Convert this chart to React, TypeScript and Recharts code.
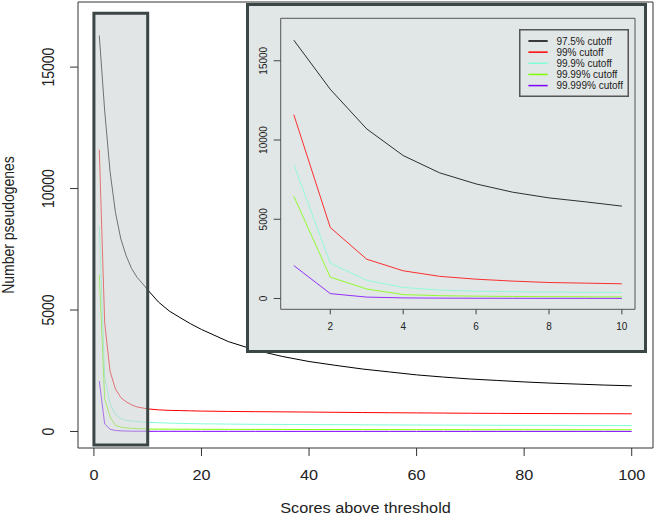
import React from 'react';
import { LineChart, Line, XAxis, YAxis, ReferenceArea } from 'recharts';

// ---- data ----
const scores = [1, 2, 3, 4, 5, 6, 7, 8, 9, 10, 12, 14, 16, 18, 20, 25, 30, 35, 40, 45, 50, 55, 60, 65, 70, 75, 80, 85, 90, 95, 100];
const cutoff975 = [16300, 13200, 10700, 9020, 7930, 7230, 6710, 6350, 6100, 5830, 5330, 4960, 4690, 4430, 4200, 3700, 3350, 3090, 2880, 2720, 2570, 2450, 2330, 2240, 2160, 2100, 2040, 1990, 1950, 1910, 1880];
const cutoff99 = [11600, 4480, 2480, 1750, 1400, 1220, 1100, 1010, 970, 930, 890, 870, 860, 850, 840, 825, 815, 808, 800, 790, 780, 772, 765, 758, 750, 745, 740, 737, 734, 731, 728];
const cutoff999 = [8450, 2230, 1150, 700, 530, 460, 430, 410, 390, 380, 360, 345, 335, 325, 315, 305, 295, 290, 285, 280, 275, 270, 267, 263, 260, 257, 254, 252, 250, 248, 245];
const cutoff9999 = [6450, 1350, 600, 250, 180, 150, 130, 120, 110, 100, 97, 95, 93, 91, 90, 87, 85, 83, 80, 79, 78, 77, 75, 74, 73, 72, 72, 71, 71, 70, 70];
const cutoff99999 = [2080, 310, 90, 40, 25, 18, 14, 11, 9, 8, 7, 7, 7, 6, 6, 6, 6, 5, 5, 5, 5, 5, 5, 5, 4, 4, 4, 4, 4, 4, 4];

const seriesNames = ['97.5% cutoff', '99% cutoff', '99.9% cutoff', '99.99% cutoff', '99.999% cutoff'];
const seriesKeys = ['c975', 'c99', 'c999', 'c9999', 'c99999'];
const seriesValues = [cutoff975, cutoff99, cutoff999, cutoff9999, cutoff99999];
const seriesColors = ['#000000', '#ff0000', '#7fffd4', '#7fff00', '#7f00ff'];

const mainXTicks = [0, 20, 40, 60, 80, 100];
const insetXTicks = [2, 4, 6, 8, 10];
const yTicks = [0, 5000, 10000, 15000];

const xTitle = 'Scores above threshold';
const yTitle = 'Number pseudogenes';

// zoom window shown in the inset
const zoomX = [0, 10];
const zoomY = [-560, 17220];

// ---- derived ----
const data = scores.map((s, i) => {
  const row: any = { score: s };
  seriesKeys.forEach((k, j) => { row[k] = seriesValues[j][i]; });
  return row;
});
const insetData = data.filter((d) => d.score <= 10);

const MAIN_X_DOMAIN: [number, number] = [-2.96, 103.96];
const INSET_X_DOMAIN: [number, number] = [0.64, 10.36];
const Y_DOMAIN: [number, number] = [-680, 17680];

const FONT = '"Liberation Sans", Arial, Helvetica, sans-serif';
const TEXT = '#222';
const STRETCH = 1.16; // main-plot text is horizontally widened in the reference

const makeYTick = (fontSize: number, sx: number) => (props: any) => {
  const { x, y, payload } = props;
  return (
    <text
      x={0}
      y={0}
      transform={`translate(${x} ${y}) scale(${sx} 1) rotate(-90)`}
      textAnchor="middle"
      fontSize={fontSize}
      fill={TEXT}
      fontFamily={FONT}
    >
      {payload.value}
    </text>
  );
};

const mainXTick = (props: any) => {
  const { x, y, payload } = props;
  return (
    <text
      x={0}
      y={0}
      dy="0.71em"
      transform={`translate(${x} ${y}) scale(${STRETCH} 1)`}
      textAnchor="middle"
      fontSize={14}
      fill={TEXT}
      fontFamily={FONT}
    >
      {payload.value}
    </text>
  );
};

const xLabel = (props: any) => {
  const vb = props.viewBox || { x: 78, y: 448, width: 575, height: 73 };
  const x = vb.x + vb.width / 2;
  const y = vb.y + 65;
  return (
    <text x={0} y={0} transform={`translate(${x} ${y}) scale(${STRETCH} 1)`} textAnchor="middle" fontSize={14} fill={TEXT} fontFamily={FONT}>
      {xTitle}
    </text>
  );
};

const yLabel = (props: any) => {
  const vb = props.viewBox || { x: 0, y: 2, width: 78, height: 446 };
  const x = vb.x + 14;
  const y = vb.y + vb.height / 2;
  return (
    <text x={0} y={0} transform={`translate(${x} ${y}) scale(${STRETCH} 1) rotate(-90)`} textAnchor="middle" fontSize={14} fill={TEXT} fontFamily={FONT}>
      {yTitle}
    </text>
  );
};

function LegendBox() {
  const w = 110;
  const h = 68;
  return (
    <svg width={w} height={h} style={{ display: 'block' }}>
      <rect x={0.75} y={0.75} width={w - 1.5} height={h - 1.5} fill="none" stroke="#555" strokeWidth={1.5} />
      {seriesNames.map((n, i) => {
        const cy = 12 + i * 11.15;
        return (
          <g key={n}>
            <line x1={9.4} x2={28.7} y1={cy} y2={cy} stroke={seriesColors[i]} strokeWidth={1.5} />
            <text x={37.4} y={cy} dominantBaseline="central" fontSize={10} fill={TEXT} fontFamily={FONT}>
              {n}
            </text>
          </g>
        );
      })}
    </svg>
  );
}

export default function App() {
  return (
    <div style={{ position: 'absolute', left: 0, top: 0, width: 661, height: 521, background: '#fff', overflow: 'hidden' }}>
      {/* main chart */}
      <div style={{ position: 'absolute', left: 0, top: 0 }}>
        <LineChart width={661} height={521} data={data} margin={{ top: 2, right: 8, left: 0, bottom: 0 }}>
          <XAxis
            dataKey="score"
            type="number"
            domain={MAIN_X_DOMAIN}
            allowDataOverflow
            ticks={mainXTicks}
            interval={0}
            height={73}
            tickSize={8}
            tickMargin={14}
            axisLine={false}
            tickLine={{ stroke: '#333' }}
            tick={mainXTick}
            label={xLabel}
          />
          <YAxis
            type="number"
            domain={Y_DOMAIN}
            allowDataOverflow
            ticks={yTicks}
            interval={0}
            width={78}
            tickSize={8}
            tickMargin={16}
            axisLine={false}
            tickLine={{ stroke: '#333' }}
            tick={makeYTick(14, STRETCH)}
            label={yLabel}
          />
          <ReferenceArea
            x1={MAIN_X_DOMAIN[0]}
            x2={MAIN_X_DOMAIN[1]}
            y1={Y_DOMAIN[0]}
            y2={Y_DOMAIN[1]}
            fill="none"
            stroke="#333"
            strokeWidth={1}
            ifOverflow="visible"
          />
          {seriesKeys.map((k, i) => (
            <Line
              key={k}
              type="linear"
              dataKey={k}
              name={seriesNames[i]}
              stroke={seriesColors[i]}
              strokeWidth={1}
              dot={false}
              activeDot={false}
              isAnimationActive={false}
            />
          ))}
        </LineChart>
      </div>

      {/* translucent zoom-window rectangle drawn over the lines */}
      <div style={{ position: 'absolute', left: 0, top: 0, pointerEvents: 'none' }}>
        <LineChart width={661} height={521} data={data} margin={{ top: 2, right: 8, left: 78, bottom: 73 }}>
          <XAxis dataKey="score" type="number" domain={MAIN_X_DOMAIN} allowDataOverflow hide />
          <YAxis type="number" domain={Y_DOMAIN} allowDataOverflow hide />
          <ReferenceArea
            x1={zoomX[0]}
            x2={zoomX[1]}
            y1={zoomY[0]}
            y2={zoomY[1]}
            fill="#c8cfcf"
            fillOpacity={0.55}
            stroke="#3b4545"
            strokeWidth={3}
            ifOverflow="visible"
          />
        </LineChart>
      </div>

      {/* inset */}
      <div
        style={{
          position: 'absolute',
          left: 246,
          top: 3,
          width: 401,
          height: 350,
          boxSizing: 'border-box',
          border: '3px solid #3b4646',
          background: '#e1e6e6',
        }}
      >
        <LineChart width={395} height={344} data={insetData} margin={{ top: 12.3, right: 9, left: 0, bottom: 0 }}>
          <XAxis
            dataKey="score"
            type="number"
            domain={INSET_X_DOMAIN}
            allowDataOverflow
            ticks={insetXTicks}
            interval={0}
            height={40.7}
            tickSize={5}
            tickMargin={9}
            axisLine={false}
            tickLine={{ stroke: '#444' }}
            tick={{ fontSize: 10, fill: TEXT, fontFamily: FONT }}
          />
          <YAxis
            type="number"
            domain={Y_DOMAIN}
            allowDataOverflow
            ticks={yTicks}
            interval={0}
            width={31.7}
            tickSize={7}
            tickMargin={7}
            axisLine={false}
            tickLine={{ stroke: '#444' }}
            tick={makeYTick(10, 1)}
          />
          <ReferenceArea
            x1={INSET_X_DOMAIN[0]}
            x2={INSET_X_DOMAIN[1]}
            y1={Y_DOMAIN[0]}
            y2={Y_DOMAIN[1]}
            fill="none"
            stroke="#555"
            strokeWidth={1}
            ifOverflow="visible"
          />
          {seriesKeys.map((k, i) => (
            <Line
              key={k}
              type="linear"
              dataKey={k}
              name={seriesNames[i]}
              stroke={seriesColors[i]}
              strokeOpacity={0.8}
              strokeWidth={1}
              dot={false}
              activeDot={false}
              isAnimationActive={false}
            />
          ))}
        </LineChart>
        <div style={{ position: 'absolute', left: 270.3, top: 22.7 }}>
          <LegendBox />
        </div>
      </div>
    </div>
  );
}
